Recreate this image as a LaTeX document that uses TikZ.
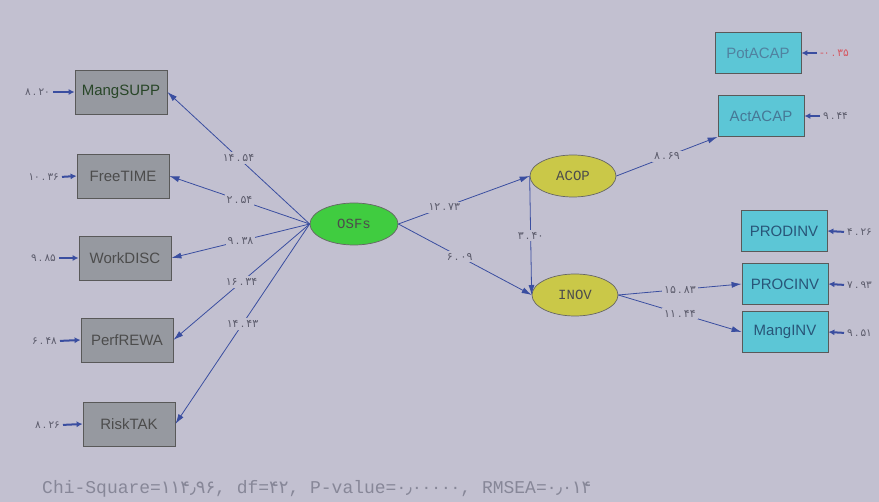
\documentclass[tikz,border=0pt]{standalone}
\usepackage{fontspec}
\setmainfont{Liberation Sans}
\newfontfamily\monof{Liberation Mono}
\newfontfamily\fa{DejaVu Sans}
\usetikzlibrary{arrows.meta,shapes.geometric}
\newcommand\mydot{\hspace{2.2pt}.\hspace{2.2pt}}
\definecolor{bgc}{RGB}{194,192,208}
\definecolor{boxgray}{RGB}{150,153,160}
\definecolor{cyanbox}{RGB}{92,198,214}
\definecolor{latgreen}{RGB}{64,204,64}
\definecolor{latolive}{RGB}{202,200,72}
\definecolor{arrblue}{RGB}{58,78,160}
\definecolor{labgray}{RGB}{92,92,108}
\definecolor{errred}{RGB}{214,86,96}
\tikzset{
  obsbox/.style={draw=black!65, line width=0.8pt, fill=boxgray, minimum width=92pt, minimum height=44pt, inner sep=0pt, font=\fontsize{15}{15}\selectfont, text=black!70},
  cyanobs/.style={obsbox, fill=cyanbox, minimum width=86pt, minimum height=41pt, text={rgb,255:red,40;green,85;blue,120}},
  latnode/.style={ellipse, draw=black!60, line width=0.7pt, minimum width=88pt, minimum height=42pt, inner sep=0pt, font=\monof\fontsize{14}{14}\selectfont, text=black!70},
  pathar/.style={draw=arrblue, line width=0.8pt, -{Latex[length=10pt,width=6pt]}},
  errar/.style={draw=arrblue, line width=2pt, shorten <=2pt, -{Latex[length=6pt,width=6pt]}},
  plab/.style={fill=bgc, inner sep=2pt, font=\fa\fontsize{11}{11}\selectfont, text=labgray},
  elab/.style={inner sep=1pt, font=\fa\fontsize{10.5}{10.5}\selectfont, text=labgray},
}
\begin{document}
\begin{tikzpicture}[x=1pt,y=-1pt]
\fill[bgc] (0,0) rectangle (879,502);
\useasboundingbox (0,0) rectangle (879,502);

% observed left
\node[obsbox, text={rgb,255:red,40;green,70;blue,40}] (MS) at (121,92) {MangSUPP};
\node[obsbox] (FT) at (123,176) {FreeTIME};
\node[obsbox] (WD) at (125,258) {WorkDISC};
\node[obsbox] (PR) at (127,340) {PerfREWA};
\node[obsbox] (RT) at (129,424) {RiskTAK};

% latent
\node[latnode, fill=latgreen] (OSF) at (354,224) {OSFs};
\node[latnode, fill=latolive, minimum width=86pt] (ACOP) at (573,176) {ACOP};
\node[latnode, fill=latolive, minimum width=86pt] (INOV) at (575,295) {INOV};

% observed right
\node[cyanobs, text={rgb,255:red,80;green,130;blue,160}] (PA) at (758,53) {PotACAP};
\node[cyanobs, text={rgb,255:red,70;green,120;blue,150}] (AA) at (761,116) {ActACAP};
\node[cyanobs] (PD) at (784,231) {PRODINV};
\node[cyanobs] (PC) at (785,284) {PROCINV};
\node[cyanobs] (MI) at (785,332) {MangINV};

% paths from OSFs
\draw[pathar] (OSF.west) -- node[plab, pos=0.5] {۱۴\mydot۵۴} (MS.east);
\draw[pathar] (OSF.west) -- node[plab, pos=0.5] {۲\mydot۵۴} (FT.east);
\draw[pathar] (OSF.west) -- node[plab, pos=0.5] {۹\mydot۳۸} (WD.east);
\draw[pathar] (OSF.west) -- node[plab, pos=0.5] {۱۶\mydot۳۴} (PR.east);
\draw[pathar] (OSF.west) -- node[plab, pos=0.5] {۱۴\mydot۴۳} (RT.east);

\draw[pathar] (OSF.east) -- node[plab, pos=0.35] {۱۲\mydot۷۳} (ACOP.west);
\draw[pathar] (OSF.east) -- node[plab, pos=0.46] {۶\mydot۰۹} (INOV.west);
\draw[pathar] (ACOP.west) -- node[plab, pos=0.5] {۳\mydot۴۰} (INOV.west);
\draw[pathar] (ACOP.east) -- node[plab, pos=0.5] {۸\mydot۶۹} (AA.south west);
\draw[pathar] (INOV.east) -- node[plab, pos=0.5] {۱۵\mydot۸۳} (PC.west);
\draw[pathar] (INOV.east) -- node[plab, pos=0.5] {۱۱\mydot۴۴} (MI.west);

% error terms left
\node[elab, anchor=east] (eMS) at (51,92) {۸\mydot۲۰};
\node[elab, anchor=east] (eFT) at (60,177) {۱۰\mydot۳۶};
\node[elab, anchor=east] (eWD) at (57,258) {۹\mydot۸۵};
\node[elab, anchor=east] (ePR) at (58,341) {۶\mydot۴۸};
\node[elab, anchor=east] (eRT) at (61,425) {۸\mydot۲۶};
\draw[errar] (eMS.east) -- (MS.west);
\draw[errar] (eFT.east) -- (FT.west);
\draw[errar] (eWD.east) -- (WD.west);
\draw[errar] (ePR.east) -- (PR.west);
\draw[errar] (eRT.east) -- (RT.west);

% error terms right
\node[elab, anchor=west, text=errred] (ePA) at (819,53) {-۰\mydot۳۵};
\node[elab, anchor=west] (eAA) at (822,116) {۹\mydot۴۴};
\node[elab, anchor=west] (ePD) at (846,232) {۴\mydot۲۶};
\node[elab, anchor=west] (ePC) at (846,285) {۷\mydot۹۳};
\node[elab, anchor=west] (eMI) at (846,333) {۹\mydot۵۱};
\draw[errar] (ePA.west) -- (PA.east);
\draw[errar] (eAA.west) -- (AA.east);
\draw[errar] (ePD.west) -- (PD.east);
\draw[errar] (ePC.west) -- (PC.east);
\draw[errar] (eMI.west) -- (MI.east);

% fit statistics
\node[anchor=west, inner sep=0pt, text={rgb,255:red,135;green,135;blue,152}, font=\monof\fontsize{18}{18}\selectfont] (fit) at (42,489)
  {Chi-Square={\fa ۱۱۴٫۹۶}, df={\fa ۴۲}, P-value={\fa ۰٫۰۰۰۰۰}, RMSEA={\fa ۰٫۰۱۴}};
\end{tikzpicture}
\end{document}
